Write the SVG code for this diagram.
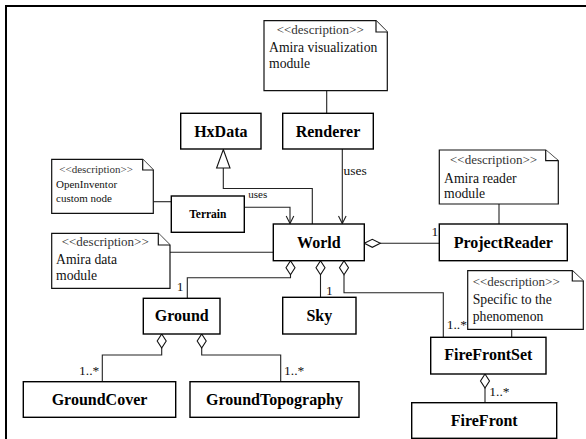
<svg xmlns="http://www.w3.org/2000/svg" xmlns:xlink="http://www.w3.org/1999/xlink" width="586" height="439" viewBox="0 0 586 439" font-family="Liberation Serif, serif">
<style>
  text { font-family: 'Liberation Serif', 'Times New Roman', serif; }
  .box { fill: #fff; stroke: #000; stroke-width: 1.4; }
  .note { fill: #fff; stroke: #111; stroke-width: 1.2; }
  .cls { font-weight: bold; font-size: 16px; fill: #000; text-anchor: middle; }
  .cls-s { font-weight: bold; font-size: 11.5px; fill: #000; text-anchor: middle; }
  .nt { font-size: 13.7px; fill: #111; }
  .nd { font-size: 13px; fill: #333; }
  .nt-s { font-size: 11px; fill: #111; }
  .nd-s { font-size: 11px; fill: #333; }
  .lbl { font-size: 13.5px; fill: #111; }
  .lbl-s { font-size: 11px; fill: #111; }
  .ln { fill: none; stroke: #222; stroke-width: 1.1; }
  .dia { fill: #fff; stroke: #111; stroke-width: 1.1; }
</style>
<defs>
  <path id="dv" d="M0,0 L4.5,7 L0,14 L-4.5,7 Z"/>
  <path id="dh" d="M0,0 L8,-4 L16,0 L8,4 Z"/>
</defs>
<rect x="0" y="0" width="586" height="439" fill="#fff"/>
<path d="M6,439 V6 H586" fill="none" stroke="#000" stroke-width="2"/>

<g id="connectors">
  <path class="ln" d="M326.7,90.7 V113.3"/>
  <path class="ln" d="M312.3,224 V188.5 H223.3 V168"/>
  <path d="M223.3,149.5 L230,168 L216.6,168 Z" fill="#fff" stroke="#111" stroke-width="1.1"/>
  <path class="ln" d="M342.3,149 V223.5"/>
  <path class="ln" d="M338.5,216 L342.3,223.5 L346.1,216"/>
  <text class="lbl" x="343.5" y="175">uses</text>
  <path class="ln" d="M244.3,207.3 H290 V223.5"/>
  <path class="ln" d="M286.2,216 L290,223.5 L293.8,216"/>
  <text class="lbl-s" x="248.3" y="198">uses</text>
  <path class="ln" d="M153.3,201.7 H171.3"/>
  <path class="ln" d="M499,204 V224"/>
  <path class="ln" d="M380,243.3 H439.3"/>
  <use href="#dh" xlink:href="#dh" x="364.3" y="243.3" class="dia"/>
  <text class="lbl" x="431.5" y="236">1</text>
  <path class="ln" d="M170,252.3 H273.3"/>
  <path class="ln" d="M290.5,274.7 V277.7 H187.3 V298.3"/>
  <use href="#dv" xlink:href="#dv" x="290.5" y="260.7" class="dia"/>
  <text class="lbl" x="176.7" y="290.5">1</text>
  <path class="ln" d="M320.5,274.7 V297.3"/>
  <use href="#dv" xlink:href="#dv" x="320.5" y="260.7" class="dia"/>
  <text class="lbl" x="326" y="295">1</text>
  <path class="ln" d="M344,274.7 V292.7 H443.3 V337.3"/>
  <use href="#dv" xlink:href="#dv" x="344" y="260.7" class="dia"/>
  <text class="lbl" x="446.7" y="329">1..*</text>
  <path class="ln" d="M511.7,329.3 V337.3"/>
  <path class="ln" d="M485,388 V402.7"/>
  <use href="#dv" xlink:href="#dv" x="485" y="374" class="dia"/>
  <text class="lbl" x="489.3" y="396">1..*</text>
  <path class="ln" d="M161.7,348 V355 H102.3 V381.7"/>
  <use href="#dv" xlink:href="#dv" x="161.7" y="334" class="dia"/>
  <text class="lbl" x="79" y="375">1..*</text>
  <path class="ln" d="M201.7,348 V355 H280.7 V381.7"/>
  <use href="#dv" xlink:href="#dv" x="201.7" y="334" class="dia"/>
  <text class="lbl" x="284" y="375">1..*</text>
</g>

<g id="note-visualization">
  <path class="note" d="M264,20.7 H376 L387.3,32 V90.7 H264 Z"/>
  <path class="note" d="M376,20.7 V32 H387.3" fill="none"/>
  <text class="nd" x="276.7" y="34">&lt;&lt;description&gt;&gt;</text>
  <text class="nt" x="269" y="52">Amira visualization</text>
  <text class="nt" x="269" y="68">module</text>
</g>

<g id="HxData">
  <rect class="box" x="180.7" y="113.3" width="80.3" height="35.7"/>
  <text class="cls" x="220.8" y="137">HxData</text>
</g>

<g id="Renderer">
  <rect class="box" x="282.7" y="113.3" width="90.6" height="35.7"/>
  <text class="cls" x="328" y="137">Renderer</text>
</g>

<g id="note-openinventor">
  <path class="note" d="M51.7,159.3 H142.7 L153.3,170 V213.3 H51.7 Z"/>
  <path class="note" d="M142.7,159.3 V170 H153.3" fill="none"/>
  <text class="nd-s" x="59.3" y="173">&lt;&lt;description&gt;&gt;</text>
  <text class="nt-s" x="56" y="187.5">OpenInventor</text>
  <text class="nt-s" x="56" y="202">custom node</text>
</g>

<g id="Terrain">
  <rect class="box" x="171.3" y="196" width="73" height="36.3"/>
  <text class="cls-s" x="207.8" y="218">Terrain</text>
</g>

<g id="note-reader">
  <path class="note" d="M439.3,150 H545.7 L558.3,160.7 V204 H439.3 Z"/>
  <path class="note" d="M545.7,150 V160.7 H558.3" fill="none"/>
  <text class="nd" x="450" y="163.5">&lt;&lt;description&gt;&gt;</text>
  <text class="nt" x="444" y="182.5">Amira reader</text>
  <text class="nt" x="444" y="198">module</text>
</g>

<g id="World">
  <rect class="box" x="273.3" y="224" width="91" height="36.7"/>
  <text class="cls" x="318.8" y="248">World</text>
</g>

<g id="ProjectReader">
  <rect class="box" x="439.3" y="224" width="128" height="36.7"/>
  <text class="cls" x="503.3" y="248">ProjectReader</text>
</g>

<g id="note-data">
  <path class="note" d="M51.7,233.3 H158.3 L170,245 V288.3 H51.7 Z"/>
  <path class="note" d="M158.3,233.3 V245 H170" fill="none"/>
  <text class="nd" x="61.7" y="246">&lt;&lt;description&gt;&gt;</text>
  <text class="nt" x="56" y="264">Amira data</text>
  <text class="nt" x="56" y="280">module</text>
</g>

<g id="Ground">
  <rect class="box" x="143.3" y="298.3" width="76.7" height="35.7"/>
  <text class="cls" x="181.7" y="321">Ground</text>
</g>

<g id="Sky">
  <rect class="box" x="282.7" y="297.3" width="73.3" height="36.7"/>
  <text class="cls" x="319.3" y="321">Sky</text>
</g>

<g id="note-phenomenon">
  <path class="note" d="M467.7,270.7 H572.3 L583.3,281 V329.3 H467.7 Z"/>
  <path class="note" d="M572.3,270.7 V281 H583.3" fill="none"/>
  <text class="nd" x="472.7" y="286">&lt;&lt;description&gt;&gt;</text>
  <text class="nt" x="472.7" y="304">Specific to the</text>
  <text class="nt" x="472.7" y="321">phenomenon</text>
</g>

<g id="FireFrontSet">
  <rect class="box" x="430.7" y="337.3" width="115.3" height="36.7"/>
  <text class="cls" x="488.3" y="360">FireFrontSet</text>
</g>

<g id="FireFront">
  <rect class="box" x="411.7" y="402.7" width="145" height="35.6"/>
  <text class="cls" x="484.2" y="426">FireFront</text>
</g>

<g id="GroundCover">
  <rect class="box" x="23.3" y="381.7" width="152.4" height="35.6"/>
  <text class="cls" x="99.5" y="405">GroundCover</text>
</g>

<g id="GroundTopography">
  <rect class="box" x="190" y="381.7" width="169" height="35.6"/>
  <text class="cls" x="274.5" y="405">GroundTopography</text>
</g>
</svg>
